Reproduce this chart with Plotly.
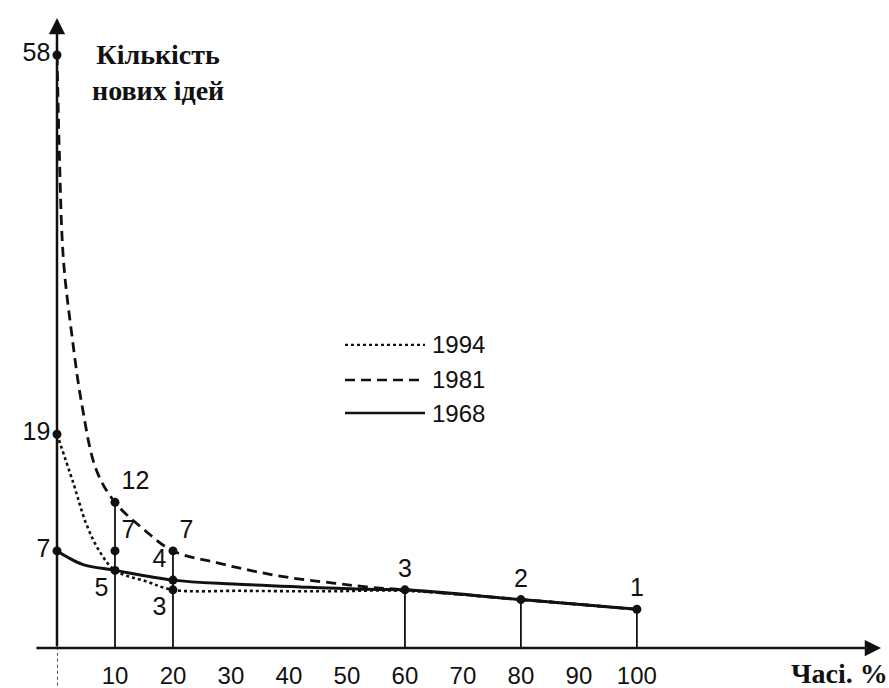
import plotly.graph_objects as go

# ---- data ----
x_1994 = [0, 2.8, 5.1, 7.4, 10, 15.5, 20, 32, 46, 60, 80, 100]
y_1994 = [19, 14, 9.7, 6.9, 5, 3.85, 3, 2.9, 2.85, 2.9, 2, 1]

x_1981 = [0, 0.15, 0.4, 1.1, 2.5, 4.3, 6.8, 10, 15, 20, 27.5, 33.3, 39.6, 47.6, 53.4, 60, 80, 100]
y_1981 = [58, 54, 48, 37, 29.5, 22, 15.3, 12, 9.2, 7, 5.8, 5.0, 4.3, 3.7, 3.3, 3, 2, 1]

x_1968 = [0, 1.7, 4.5, 10, 20, 30.4, 41.9, 53.4, 60, 80, 100]
y_1968 = [7, 6.4, 5.6, 5, 4, 3.6, 3.3, 3.05, 3, 2, 1]

pt_x = [0, 0, 0, 10, 10, 10, 20, 20, 20, 60, 80, 100]
pt_y = [58, 19, 7, 12, 7, 5, 7, 4, 3, 3, 2, 1]
pt_text = ["58", "19", "7", "12", "7", "5", "7", "4", "3", "3", "2", "1"]
pt_pos = ["middle left", "middle left", "middle left", "top right", "top right",
          "bottom left", "top right", "top left", "bottom left",
          "top center", "top center", "top center"]

drop_x = [10, 20, 60, 80, 100]
drop_top = [12, 7, 3, 2, 1]

x_ticks = [10, 20, 30, 40, 50, 60, 70, 80, 90, 100]
legend_years = ["1994", "1981", "1968"]
y_title = "<b>Кількість<br>нових ідей</b>"
x_title = "<b>Часі. %</b>"

# ---- layout constants ----
X_MAX = 142.1
Y_MIN, Y_MAX = -2.98, 61.8
AXIS_Y = Y_MIN
SANS = "Liberation Sans, Arial, sans-serif"
SERIF = "Liberation Serif, Times New Roman, serif"
INK = "#111111"

fig = go.Figure()

# drop lines from the marked points to the x axis
dx, dy = [], []
for xv, yv in zip(drop_x, drop_top):
    dx += [xv, xv, None]
    dy += [yv, AXIS_Y, None]
fig.add_trace(go.Scatter(x=dx, y=dy, mode="lines", line=dict(color=INK, width=1.8),
                         hoverinfo="skip", showlegend=False))

styles = {"1994": dict(dash="dot", width=2.6),
          "1981": dict(dash="10px,6px", width=2.8),
          "1968": dict(dash="solid", width=3)}

for name, xs, ys in [("1994", x_1994, y_1994), ("1981", x_1981, y_1981), ("1968", x_1968, y_1968)]:
    fig.add_trace(go.Scatter(x=xs, y=ys, mode="lines", name=name,
                             line=dict(color=INK, shape="spline", smoothing=1.0, **styles[name]),
                             showlegend=False))

fig.add_trace(go.Scatter(x=pt_x, y=pt_y, mode="markers+text", text=pt_text,
                         textposition=pt_pos, cliponaxis=False,
                         textfont=dict(family=SANS, size=25, color=INK),
                         marker=dict(color=INK, size=9), showlegend=False))

# axes drawn as arrows
fig.add_annotation(x=0, y=Y_MAX, ax=0, ay=AXIS_Y, xref="x", yref="y", axref="x", ayref="y",
                   showarrow=True, arrowhead=2, arrowsize=1.3, arrowwidth=2.5, arrowcolor=INK, text="")
fig.add_annotation(x=X_MAX, y=AXIS_Y, ax=-3.8, ay=AXIS_Y, xref="x", yref="y", axref="x", ayref="y",
                   showarrow=True, arrowhead=2, arrowsize=1.3, arrowwidth=2.5, arrowcolor=INK, text="")
# dotted continuation of the vertical axis below the x axis
fig.add_shape(type="line", xref="x", yref="paper", x0=0, x1=0, y0=-0.06, y1=0,
              line=dict(color=INK, width=1.5, dash="dot"))

# titles
fig.add_annotation(text=y_title, xref="paper", yref="paper", x=0.122, y=0.914,
                   xanchor="center", yanchor="middle",
                   showarrow=False, align="center",
                   font=dict(family=SERIF, size=28, color=INK))
fig.add_annotation(text=x_title, xref="paper", yref="paper", x=0.95, y=-0.04,
                   xanchor="center", yanchor="middle",
                   showarrow=False, font=dict(family=SERIF, size=28, color=INK))

# manual legend
leg_y = [0.481, 0.4254, 0.373]
for name, ly in zip(legend_years, leg_y):
    st = styles[name]
    fig.add_shape(type="line", xref="paper", yref="paper", x0=0.3495, x1=0.4466, y0=ly, y1=ly,
                  line=dict(color=INK, width=st["width"] - 0.4, dash=st["dash"]))
    fig.add_annotation(text=name, xref="paper", yref="paper", x=0.4527, y=ly,
                       xanchor="left", yanchor="middle",
                       showarrow=False, font=dict(family=SANS, size=24, color=INK))

fig.update_layout(
    width=889, height=688,
    margin=dict(l=57, r=8, t=18, b=40),
    paper_bgcolor="white", plot_bgcolor="white",
    xaxis=dict(range=[0, X_MAX], tickvals=x_ticks, showline=False, showgrid=False,
               zeroline=False, ticks="", ticklabelstandoff=11, automargin=False,
               tickfont=dict(family=SANS, size=24, color=INK)),
    yaxis=dict(range=[Y_MIN, Y_MAX], showline=False, showgrid=False, zeroline=False,
               showticklabels=False, ticks="", automargin=False),
)

fig.write_html("out.html", config={"displayModeBar": False},
               post_script="document.body.style.margin='0';")
